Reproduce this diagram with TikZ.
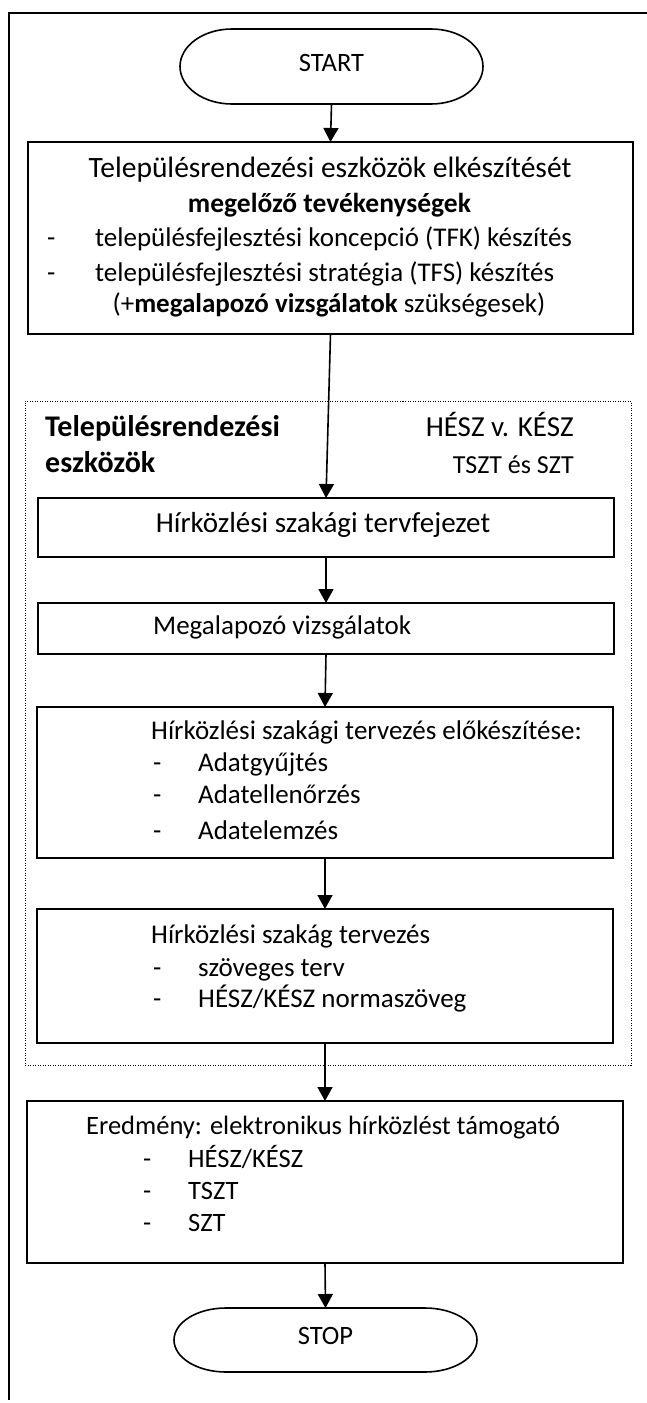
\documentclass[tikz,border=0pt]{standalone}
\usepackage{fontspec}
\setmainfont{Carlito}
\usetikzlibrary{arrows.meta,fit}
\begin{document}
\begin{tikzpicture}[x=1pt,y=-1pt,
  line/.style={line width=1.6pt},
  box/.style={draw,line width=1.6pt,inner sep=0pt,outer sep=0pt},
  term/.style={inner sep=0pt,outer sep=0pt,minimum width=303pt},
  grp/.style={draw,line width=1pt,dash pattern=on 1pt off 1.5pt,inner sep=0pt},
  arr/.style={-{Triangle[length=14pt,width=15pt]},line width=1.6pt},
  txt/.style={inner sep=0pt,font=\fontsize{27}{32}\selectfont,yshift=-2.5pt},
  big/.style={txt,font=\fontsize{29.5}{35}\selectfont},
  bigb/.style={txt,font=\fontsize{30}{35}\selectfont\bfseries},
]
\useasboundingbox (0,0) rectangle (647,1403);
% outer frame
\draw[line] (647,13) -- (9,13) -- (9,1400);

% START
\node[term,minimum height=75pt] (start) at (331.5,66.5) {};
\node[txt,font=\fontsize{26.5}{31}\selectfont,anchor=mid] (starttxt) at (331.5,66.5) {START};
\draw[line] ([xshift=52pt]start.north west) -- ([xshift=-52pt]start.north east)
  arc[start angle=90,end angle=-90,x radius=52pt,y radius=37.5pt]
  -- ([xshift=52pt]start.south west)
  arc[start angle=270,end angle=90,x radius=52pt,y radius=37.5pt] -- cycle;

% box 1
\node[box,fit={(28,142) (633,334)}] (b1) {};
\node[big,anchor=mid] (b1l1) at (330,173) {Településrendezési eszközök elkészítését};
\node[txt,font=\fontsize{27.5}{32}\selectfont\bfseries,anchor=mid] (b1l2) at (329.5,208) {megelőző tevékenységek};
\node[txt,anchor=mid west] (b1l3) at (47,242) {\makebox[48pt][l]{-}településfejlesztési koncepció (TFK) készítés};
\node[txt,anchor=mid west] (b1l4) at (47,277) {\makebox[48pt][l]{-}településfejlesztési stratégia (TFS) készítés};
\node[txt,anchor=mid] (b1l5) at (329,308) {(+\textbf{megalapozó vizsgálatok} szükségesek)};

% dotted group
\node[grp,fit={(25,401) (631,1065)}] (grp) {};
\node[bigb,anchor=mid west] (g1) at (45,432) {Településrendezési};
\node[bigb,anchor=mid west] (g2) at (45,468) {eszközök};
\node[txt,font=\fontsize{29}{34}\selectfont,anchor=mid east] (g3) at (574,432) {HÉSZ v. KÉSZ};
\node[txt,font=\fontsize{26}{31}\selectfont,anchor=mid east] (g4) at (574,469) {TSZT és SZT};

% box 2
\node[box,fit={(38,498) (614,557)}] (b2) {};
\node[txt,font=\fontsize{29}{34}\selectfont,anchor=mid] (b2t) at (323,528) {Hírközlési szakági tervfejezet};

% box 3
\node[box,fit={(38,603) (614,654)}] (b3) {};
\node[txt,anchor=mid west] (b3t) at (153,630) {Megalapozó vizsgálatok};

% box 4
\node[box,fit={(37,707) (613,858)}] (b4) {};
\node[txt,anchor=mid west] (b4t) at (151,735) {Hírközlési szakági tervezés előkészítése:};
\node[txt,anchor=mid west] (b4a) at (153,767) {\makebox[45pt][l]{-}Adatgyűjtés};
\node[txt,anchor=mid west] (b4b) at (153,799) {\makebox[45pt][l]{-}Adatellenőrzés};
\node[txt,anchor=mid west] (b4c) at (153,835) {\makebox[45pt][l]{-}Adatelemzés};

% box 5
\node[box,fit={(37,909) (613,1043)}] (b5) {};
\node[txt,anchor=mid west] (b5t) at (151,939) {Hírközlési szakág tervezés};
\node[txt,anchor=mid west] (b5a) at (153,972) {\makebox[45pt][l]{-}szöveges terv};
\node[txt,anchor=mid west] (b5b) at (153,1003) {\makebox[45pt][l]{-}HÉSZ/KÉSZ normaszöveg};

% box 6
\node[box,fit={(27,1101) (623,1263)}] (b6) {};
\node[txt,font=\fontsize{26.5}{31}\selectfont,anchor=mid west] (b6t) at (86,1130) {Eredmény: elektronikus hírközlést támogató};
\node[txt,font=\fontsize{26.5}{31}\selectfont,anchor=mid west] (b6a) at (143,1163) {\makebox[45pt][l]{-}HÉSZ/KÉSZ};
\node[txt,font=\fontsize{26.5}{31}\selectfont,anchor=mid west] (b6b) at (143,1195) {\makebox[45pt][l]{-}TSZT};
\node[txt,font=\fontsize{26.5}{31}\selectfont,anchor=mid west] (b6c) at (143,1227) {\makebox[45pt][l]{-}SZT};

% STOP
\node[term,minimum height=64pt] (stop) at (325.5,1340) {};
\node[txt,font=\fontsize{26.5}{31}\selectfont,anchor=mid] (stoptxt) at (325.5,1340) {STOP};
\draw[line] ([xshift=52pt]stop.north west) -- ([xshift=-52pt]stop.north east)
  arc[start angle=90,end angle=-90,x radius=52pt,y radius=32pt]
  -- ([xshift=52pt]stop.south west)
  arc[start angle=270,end angle=90,x radius=52pt,y radius=32pt] -- cycle;

% connectors
\draw[arr] (start.south) -- (b1.north);
\draw[arr] (b1.south) -- (b2.north);
\draw[arr] (b2.south) -- (b3.north);
\draw[arr] (b3.south) -- (b4.north);
\draw[arr] (b4.south) -- (b5.north);
\draw[arr] (b5.south) -- (b6.north);
\draw[arr] (b6.south) -- (stop.north);
\end{tikzpicture}
\end{document}
